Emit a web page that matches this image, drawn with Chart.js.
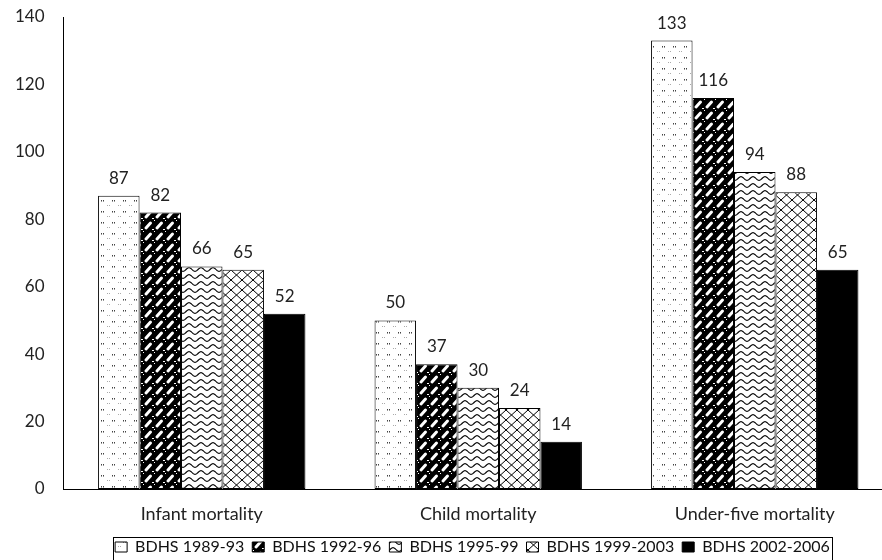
<!DOCTYPE html>
<html>
<head>
<meta charset="utf-8">
<script src="https://cdn.jsdelivr.net/npm/chart.js@4.4.1/dist/chart.umd.min.js"></script>
<style>
  html, body { margin: 0; padding: 0; background: #fff; overflow: hidden; }
  #wrap { width: 945px; height: 560px; }
</style>
</head>
<body>
<div id="wrap"><canvas id="mortalityChart" width="945" height="560"></canvas></div>
<script>
const categories = ['Infant mortality', 'Child mortality', 'Under-five mortality'];
const surveys = ['BDHS 1989-93', 'BDHS 1992-96', 'BDHS 1995-99', 'BDHS 1999-2003', 'BDHS 2002-2006'];
const bdhs1989 = [87, 50, 133];
const bdhs1992 = [82, 37, 116];
const bdhs1995 = [66, 30, 94];
const bdhs1999 = [65, 24, 88];
const bdhs2002 = [52, 14, 65];
const yTicks = [0, 20, 40, 60, 80, 100, 120, 140];

// small tiles used as bar fills
function tile(w, h, draw) {
    const c = document.createElement('canvas');
    c.width = w;
    c.height = h;
    const g = c.getContext('2d');
    draw(g);
    return g.createPattern(c, 'repeat');
}

const dots = tile(11, 11, g => {
    g.fillStyle = '#fff';
    g.fillRect(0, 0, 11, 11);
    g.fillStyle = '#444';
    g.fillRect(2, 2, 1, 1);
    g.fillRect(4, 2, 1, 1);
    g.fillStyle = '#999';
    g.fillRect(2, 3, 1, 1);
    g.fillRect(4, 3, 1, 1);
    g.fillStyle = '#aaa';
    g.fillRect(8, 7, 1, 1);
    g.fillRect(10, 7, 1, 1);
});

const weave = tile(11, 11, g => {
    g.fillStyle = '#000';
    g.fillRect(0, 0, 11, 11);
    g.strokeStyle = '#fff';
    g.lineWidth = 3;
    g.lineCap = 'round';
    g.beginPath();
    g.moveTo(3, 8);
    g.lineTo(7.5, 3);
    g.stroke();
    g.fillStyle = '#fff';
    g.fillRect(9, 9, 2, 1);
    g.fillRect(0, 0, 1, 1);
});

const waves = tile(12, 7, g => {
    g.fillStyle = '#fff';
    g.fillRect(0, 0, 12, 7);
    g.strokeStyle = '#000';
    g.lineWidth = 1.2;
    g.beginPath();
    for (let x = 0; x <= 12; x += 0.5) {
        const y = 3.5 + 1.8 * Math.sin(x / 12 * Math.PI * 2);
        if (x === 0) g.moveTo(x, y); else g.lineTo(x, y);
    }
    g.stroke();
});

const hatch = tile(11, 10, g => {
    g.fillStyle = '#fff';
    g.fillRect(0, 0, 11, 10);
    g.strokeStyle = '#000';
    g.lineWidth = 1;
    g.beginPath();
    g.moveTo(0, 0); g.lineTo(11, 10);
    g.moveTo(11, 0); g.lineTo(0, 10);
    g.stroke();
});

const fills = [dots, weave, waves, hatch, '#000'];
const series = [bdhs1989, bdhs1992, bdhs1995, bdhs1999, bdhs2002];

// numbers above the bars
const valueLabels = {
    id: 'valueLabels',
    afterDatasetsDraw(chart) {
        const ctx = chart.ctx;
        ctx.save();
        ctx.font = '17px Lato';
        ctx.fillStyle = '#222';
        ctx.textAlign = 'center';
        ctx.textBaseline = 'alphabetic';
        chart.data.datasets.forEach((ds, i) => {
            chart.getDatasetMeta(i).data.forEach((bar, j) => {
                ctx.fillText(ds.data[j], bar.x, bar.y - 12);
            });
        });
        ctx.restore();
    }
};

// the source figure is cropped on the right, so nudge the legend to its centre
// and draw the frame round it
const legendFrame = {
    id: 'legendFrame',
    afterLayout(chart) {
        const lg = chart.legend;
        lg.left += 26;
        lg.right += 26;
        lg.top += 5;
        lg.bottom += 5;
    },
    afterDraw(chart) {
        const boxes = chart.legend.legendHitBoxes;
        if (!boxes || !boxes.length) return;
        const last = boxes[boxes.length - 1];
        const left = Math.round(boxes[0].left - 2) + 0.5;
        const right = Math.round(last.left + last.width + 2) + 0.5;
        const ctx = chart.ctx;
        ctx.save();
        ctx.strokeStyle = '#000';
        ctx.lineWidth = 1;
        ctx.strokeRect(left, 537.5, right - left, 40);
        ctx.restore();
    }
};

Chart.defaults.font.family = 'Lato';
Chart.defaults.color = '#222';

const ctx = document.getElementById('mortalityChart').getContext('2d');
new Chart(ctx, {
    type: 'bar',
    data: {
        labels: categories,
        datasets: surveys.map((name, i) => ({
            label: name,
            data: series[i],
            backgroundColor: fills[i],
            borderColor: '#000',
            borderWidth: 1,
            borderSkipped: false,
            barPercentage: 1,
            categoryPercentage: 0.75
        }))
    },
    options: {
        responsive: false,
        animation: false,
        devicePixelRatio: 1,
        layout: { padding: { top: 17, left: 0, right: 52, bottom: 0 } },
        plugins: {
            tooltip: { enabled: false },
            legend: {
                position: 'bottom',
                labels: {
                    boxWidth: 12,
                    boxHeight: 10,
                    padding: 8,
                    color: '#111',
                    font: { size: 16 }
                }
            }
        },
        scales: {
            x: {
                grid: { display: false, drawTicks: false },
                border: { display: true, color: '#000', width: 1 },
                ticks: { font: { size: 18 }, padding: 14, maxRotation: 0 },
                afterFit(scale) { scale.height = 37; }
            },
            y: {
                min: 0,
                max: 140,
                afterBuildTicks(scale) { scale.ticks = yTicks.map(v => ({ value: v })); },
                grid: { display: false, drawTicks: false },
                border: { display: true, color: '#000', width: 1 },
                ticks: { font: { size: 17 }, padding: 19 },
                afterFit(scale) {
                    scale.width = 63.5;
                    scale.paddingTop = 0;
                    scale.paddingBottom = 0;
                }
            }
        }
    },
    plugins: [valueLabels, legendFrame]
});
</script>
</body>
</html>
